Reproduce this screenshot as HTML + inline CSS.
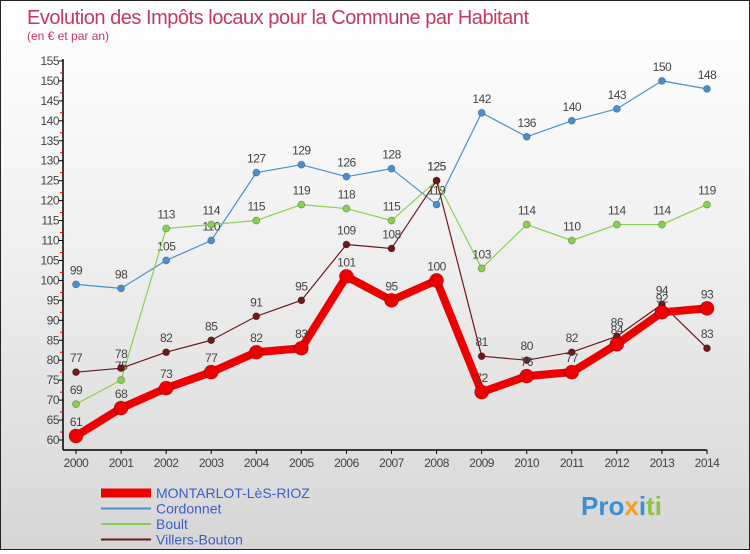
<!DOCTYPE html>
<html><head><meta charset="utf-8"><style>
html,body{margin:0;padding:0}
body{width:750px;height:550px;overflow:hidden;font-family:"Liberation Sans",sans-serif}
#wrap{position:relative;width:748px;height:548px;border:1px solid #222;background:linear-gradient(#ffffff 0%,#f2f2f2 40%,#d6d6d6 100%)}
</style></head><body>
<div id="wrap">
<svg id="chart" width="748" height="548" xmlns="http://www.w3.org/2000/svg">
<text x="26" y="23" font-size="20" fill="#c23a5e" font-family="Liberation Sans, sans-serif" style="font-weight:300" textLength="502">Evolution des Impôts locaux pour la Commune par Habitant</text>
<text x="26" y="39" font-size="12" fill="#c23a5e">(en € et par an)</text>
<g id="axes"></g>
<g id="series"></g>
<g id="legend"></g>
<text x="580" y="514" font-size="26" font-weight="bold"><tspan fill="#3a8fd6">Pro</tspan><tspan fill="#f0a020">x</tspan><tspan fill="#3a8fd6">i</tspan><tspan fill="#8cc63f">ti</tspan></text>
</svg>
</div>
<script>
const years = [2000,2001,2002,2003,2004,2005,2006,2007,2008,2009,2010,2011,2012,2013,2014];
const montarlot = [61,68,73,77,82,83,101,95,100,72,76,77,84,92,93];
const cordonnet = [99,98,105,110,127,129,126,128,119,142,136,140,143,150,148];
const boult = [69,75,113,114,115,119,118,115,125,103,114,110,114,114,119];
const villers = [77,78,82,85,91,95,109,108,125,81,80,82,86,94,83];
const yTicks = [60,65,70,75,80,85,90,95,100,105,110,115,120,125,130,135,140,145,150,155];
const seriesNames = ["MONTARLOT-LèS-RIOZ","Cordonnet","Boult","Villers-Bouton"];

const NS="http://www.w3.org/2000/svg";
const X0=75,X1=706,Y0=439,PU=3.99;
function xs(i){return X0+(X1-X0)*i/(years.length-1);}
function ys(v){return Y0-(v-60)*PU;}
function mk(tag,attrs,parent){const e=document.createElementNS(NS,tag);for(const k in attrs)e.setAttribute(k,attrs[k]);parent.appendChild(e);return e;}
const axes=document.getElementById('axes');
const ax=mk('line',{x1:62,y1:58,x2:62,y2:449,stroke:'#000','stroke-width':1.5},axes);


const xa=mk('line',{x1:62,y1:449,x2:X1,y2:449,stroke:'#000','stroke-width':1.5},axes);


yTicks.forEach((v,i)=>{
  const y=ys(v);
  mk('line',{x1:58,y1:y,x2:62,y2:y,stroke:'#000'},axes);
  if(i<yTicks.length-1) mk('line',{x1:59,y1:y-2*PU,x2:62,y2:y-2*PU,stroke:'#e00'},axes);
  const t=mk('text',{x:58,y:y+4,'font-size':12,fill:'#444','text-anchor':'end','letter-spacing':'-0.5'},axes);
  t.textContent=v;
  
  
});
years.forEach((yr,i)=>{
  const x=xs(i);
  mk('line',{x1:x,y1:449,x2:x,y2:453,stroke:'#000'},axes);
  const t=mk('text',{x:x,y:466,'font-size':12,fill:'#444','text-anchor':'middle','letter-spacing':'-0.5'},axes);
  t.textContent=yr;
  
  
});
const sg=document.getElementById('series');
function draw(vals,color,w,r,name){
  const g=mk('g',{},sg);
  
  
  mk('polyline',{points:vals.map((v,i)=>xs(i)+','+ys(v)).join(' '),fill:'none',stroke:color,'stroke-width':w,'stroke-linejoin':'round'},g);
  vals.forEach((v,i)=>{
    const c=mk('circle',{cx:xs(i),cy:ys(v),r:r,fill:color,stroke:'rgba(0,0,0,0.3)','stroke-width':0.8},g);
    
    
    const t=mk('text',{x:xs(i),y:ys(v)-10,'font-size':12,fill:'#444','text-anchor':'middle','letter-spacing':'-0.5'},g);
    t.textContent=v;
    
    
  });
}
draw(cordonnet,'#4a90d0',1.2,3.5,'series-cordonnet');
draw(boult,'#88d050',1.2,3.5,'series-boult');
draw(villers,'#6b1a1a',1.2,3.5,'series-villers-bouton');
draw(montarlot,'#ee0000',8,7,'series-montarlot');

const lg=document.getElementById('legend');
const lcol=['#ee0000','#4a90d0','#88d050','#6b1a1a'];
const lw=[9,2,2,2];
seriesNames.forEach((n,i)=>{
  const y=492+i*15.5;
  const l=mk('line',{x1:100,y1:y,x2:150,y2:y,stroke:lcol[i],'stroke-width':lw[i]},lg);
  
  
  const t=mk('text',{x:155,y:y+5,'font-size':14,fill:'#3a5fc8'},lg);
  t.textContent=n;
  
  
});
</script>
</body></html>
